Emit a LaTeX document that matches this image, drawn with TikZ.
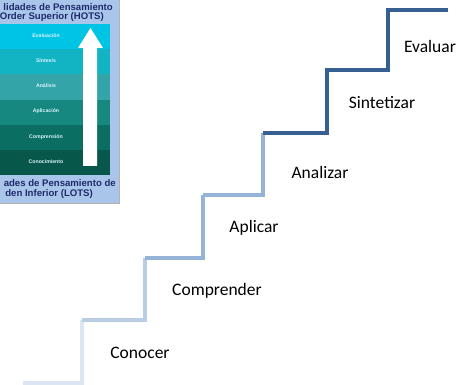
\documentclass[tikz,border=0pt]{standalone}
\usepackage{fontspec}
\setmainfont{Carlito}
\newfontfamily\titlefont{Liberation Sans}
\usetikzlibrary{positioning}

\definecolor{stepA}{HTML}{DCE6F2}
\definecolor{stepB}{HTML}{B9CDE5}
\definecolor{stepC}{HTML}{95B3D7}
\definecolor{stepD}{HTML}{376092}
\definecolor{panelbg}{HTML}{A9C6EA}
\definecolor{titleblue}{HTML}{1F2A6B}
\definecolor{bandA}{HTML}{00C4E4}
\definecolor{bandB}{HTML}{12B4C4}
\definecolor{bandC}{HTML}{33A5A8}
\definecolor{bandD}{HTML}{16887F}
\definecolor{bandE}{HTML}{0B6E62}
\definecolor{bandF}{HTML}{07574A}

\tikzset{
  stair/.style={line width=4.3pt, line join=miter},
  steplabel/.style={font=\fontsize{17.5}{20}\selectfont, inner sep=0pt},
  bandlabel/.style={font=\titlefont\bfseries\fontsize{5.2}{6}\selectfont, text=white!85!cyan, inner sep=0pt},
  paneltitle/.style={font=\titlefont\bfseries\fontsize{9.6}{11}\selectfont, text=titleblue, inner sep=0pt, anchor=east}
}

\begin{document}
\begin{tikzpicture}[x=1pt, y=-1pt]
    \useasboundingbox (0,0) rectangle (459,385);

    % Picture box, top left
    \begin{scope}
        \clip (0,0) rectangle (120,204);
        \fill[panelbg] (0,0) rectangle (120,204);
        \draw[gray!60] (119.5,0) -- (119.5,203.5) -- (0,203.5);
        \node[paneltitle] (hots1) at (113,7) {lidades de Pensamiento};
        \node[paneltitle] (hots2) at (104,17) {Order Superior (HOTS)};
        % bands, top to bottom
        \foreach \c [count=\i from 0] in {bandA,bandB,bandC,bandD,bandE,bandF}
            \fill[\c] (0,{24+25.2*\i}) rectangle (110,{24+25.2*(\i+1)});
        \node[bandlabel] (b1) at (46,36) {Evaluación};
        \node[bandlabel] (b2) at (46,61) {Síntesis};
        \node[bandlabel] (b3) at (46,86) {Análisis};
        \node[bandlabel] (b4) at (46,111) {Aplicación};
        \node[bandlabel] (b5) at (46,137) {Comprensión};
        \node[bandlabel] (b6) at (46,162) {Conocimiento};
        % white arrow
        \fill[white] (83,166) -- (83,48) -- (78,48) -- (90.5,28) -- (103,48) -- (97,48) -- (97,166) -- cycle;
        \node[paneltitle] (lots1) at (116,183) {ades de Pensamiento de};
        \node[paneltitle] (lots2) at (93,194) {den Inferior (LOTS)};
    \end{scope}

    % Stair corners
    \coordinate (p0) at (23,383);
    \coordinate (p1) at (82,383);   \coordinate (q1) at (82,320);
    \coordinate (p2) at (145,320);  \coordinate (q2) at (145,258);
    \coordinate (p3) at (203,258);  \coordinate (q3) at (203,195);
    \coordinate (p4) at (263,195);  \coordinate (q4) at (263,133);
    \coordinate (p5) at (327,133);  \coordinate (q5) at (327,70);
    \coordinate (p6) at (388,70);   \coordinate (q6) at (388,10);
    \coordinate (p7) at (448,10);

    \draw[stair, stepA] (p0) -- (p1) -- (q1);
    \draw[stair, stepB] (q1) -- (p2) -- (q2);
    \draw[stair, stepC] (q2) -- (p3) -- (q3);
    \draw[stair, stepC] (q3) -- (p4) -- (q4);
    \draw[stair, stepD] (q4) -- (p5) -- (q5) -- (p6) -- (q6) -- (p7);

    % Labels on the steps
    \node[steplabel] (conocer) at (140,353) {Conocer};
    \node[steplabel] (comprender) at (217,291) {Comprender};
    \node[steplabel] (aplicar) at (254,228) {Aplicar};
    \node[steplabel] (analizar) at (320,172) {Analizar};
    \node[steplabel] (sintetizar) at (382,103) {Sintetizar};
    \node[steplabel] (evaluar) at (430,46) {Evaluar};
\end{tikzpicture}
\end{document}
